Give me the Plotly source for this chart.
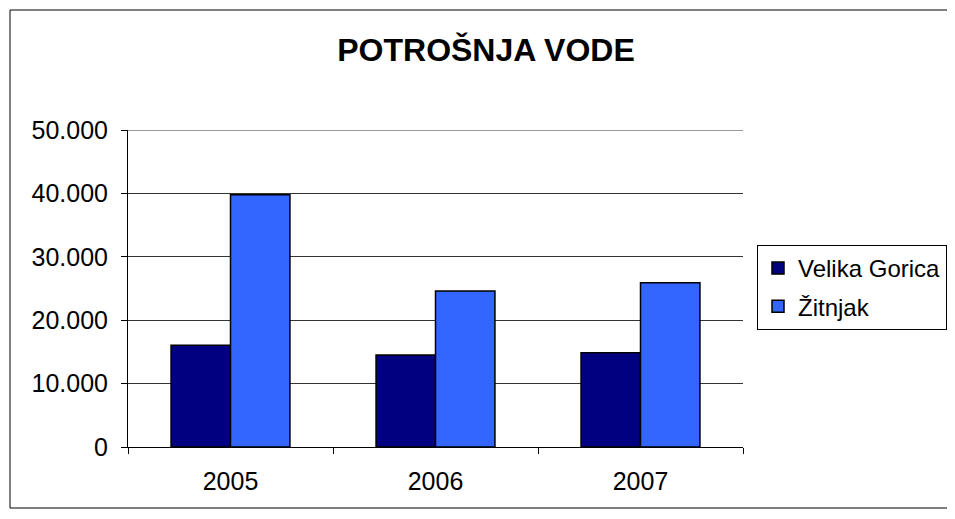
import plotly.graph_objects as go

years = ["2005", "2006", "2007"]
velika_gorica = [16050, 14500, 14850]
zitnjak = [39800, 24600, 25900]
y_ticks = [0, 10000, 20000, 30000, 40000, 50000]

FONT = "Liberation Sans, Arial, sans-serif"

# the page has an 8px body margin, so the figure is drawn 16px smaller
W, H = 939, 503

fig = go.Figure()
fig.add_trace(go.Bar(
    x=years, y=velika_gorica, name="Velika Gorica", legendgroup="a",
    marker=dict(color="#000080", line=dict(color="black", width=1.5))
))
fig.add_trace(go.Bar(
    x=years, y=zitnjak, name="Žitnjak", legendgroup="b",
    marker=dict(color="#3366FF", line=dict(color="black", width=1.5))
))

# plot area in reference pixels: x 128..743, y 130..447
def px_x(p):
    return (p - 128) / 615

def px_y(p):
    return (447 - p) / 317

fig.update_layout(
    width=W, height=H,
    autosize=False,
    separators=",.",
    barmode="group",
    bargap=0.42,
    bargroupgap=0,
    paper_bgcolor="white",
    plot_bgcolor="white",
    font=dict(family=FONT, size=25, color="black"),
    margin=dict(l=120, r=204, t=122, b=64),
    title=dict(
        text="<b>POTROŠNJA VODE</b>",
        font=dict(family=FONT, size=32, color="black"),
        x=(486 - 8) / W, xref="container", xanchor="center",
        y=1 - (50 - 8) / H, yref="container", yanchor="middle"
    ),
    xaxis=dict(
        showgrid=False, showline=True, linecolor="black", linewidth=1,
        ticks="outside", ticklen=6, tickcolor="black", tickson="boundaries",
        ticklabelstandoff=12,
        tickfont=dict(size=25)
    ),
    yaxis=dict(
        range=[0, 50000], tickvals=y_ticks, tickformat=",d",
        showgrid=True, gridcolor="#333333", gridwidth=1,
        showline=True, linecolor="black", linewidth=1,
        ticks="outside", ticklen=6, tickcolor="black",
        ticklabelstandoff=8,
        zeroline=False, tickfont=dict(size=25)
    ),
    legend=dict(
        xref="container", yref="container",
        x=(757 - 8) / W, y=1 - (245 - 8) / H, xanchor="left", yanchor="top",
        bordercolor="black", borderwidth=1, bgcolor="white",
        font=dict(family=FONT, size=24), tracegroupgap=4
    ),
    shapes=[
        dict(
            type="rect", xref="paper", yref="paper",
            x0=px_x(10), x1=px_x(975), y0=px_y(508), y1=px_y(10),
            line=dict(color="black", width=1), layer="below"
        ),
        dict(
            type="line", xref="paper", yref="y",
            x0=0, x1=1, y0=50000, y1=50000,
            line=dict(color="#333333", width=1), layer="below"
        ),
    ]
)

fig.write_html("out.html")
